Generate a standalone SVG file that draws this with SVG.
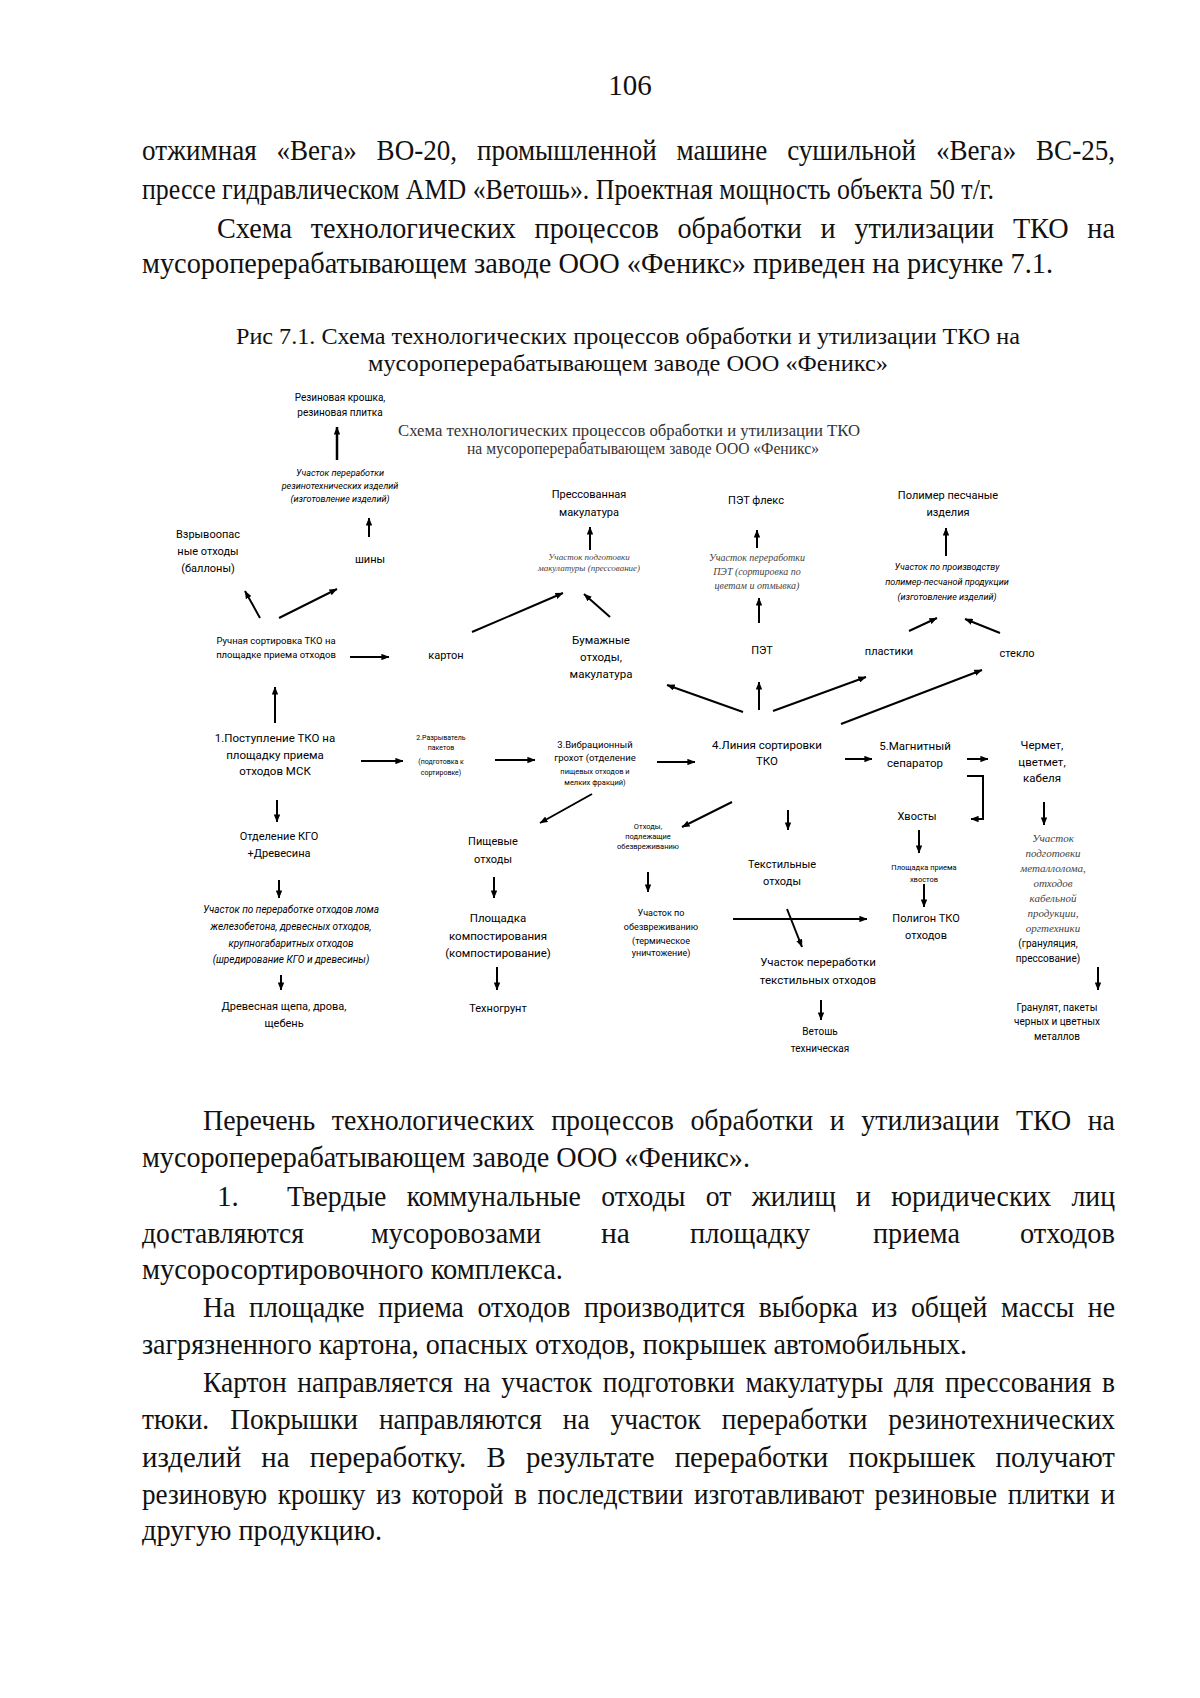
<svg xmlns="http://www.w3.org/2000/svg" width="1200" height="1698" viewBox="0 0 1200 1698">
<defs>
<marker id="ah" viewBox="0 0 10 8" refX="9.5" refY="4" markerWidth="8" markerHeight="6.4" markerUnits="userSpaceOnUse" orient="auto">
<path d="M0,0 L10,4 L0,8 z" fill="#000"/>
</marker>
<style>
.body{font-family:"Liberation Serif","Times New Roman",serif;font-size:29px;fill:#111}
.cap{font-family:"Liberation Serif","Times New Roman",serif;font-size:24px;fill:#111;text-anchor:middle}
.ttl{font-family:"Liberation Serif","Times New Roman",serif;font-size:16px;fill:#333;text-anchor:middle}
text.s{font-family:Roboto,"Liberation Sans",sans-serif;text-anchor:middle;dominant-baseline:central;fill:#000}
.f11{font-size:11px}.f115{font-size:11.5px}.f10{font-size:10px}.f95{font-size:9.5px}.f9{font-size:9px}.f75{font-size:7.5px}.f7{font-size:7px}
.it{font-style:italic}
text.si{font-family:"Liberation Serif",serif;font-style:italic;text-anchor:middle;dominant-baseline:central;fill:#444}
.cn line,.cn polyline{stroke:#000;stroke-width:2;fill:none;marker-end:url(#ah)}
</style>
</defs>
<rect width="1200" height="1698" fill="#fff"/>

<g id="page-text">
<text class="body" x="630" y="95" text-anchor="middle">106</text>
<text class="body" x="142" y="160" style="word-spacing:14px" textLength="973" lengthAdjust="spacingAndGlyphs">отжимная «Вега» ВО-20, промышленной машине сушильной «Вега» ВС-25,</text>
<text class="body" x="142" y="199" textLength="852" lengthAdjust="spacingAndGlyphs">прессе гидравлическом AMD «Ветошь». Проектная мощность объекта 50 т/г.</text>
<text class="body" x="217" y="238" style="word-spacing:12px" textLength="898" lengthAdjust="spacingAndGlyphs">Схема технологических процессов обработки и утилизации ТКО на</text>
<text class="body" x="142" y="273" textLength="911" lengthAdjust="spacingAndGlyphs">мусороперерабатывающем заводе ООО «Феникс» приведен на рисунке 7.1.</text>
<text class="cap" x="628" y="344" textLength="784" lengthAdjust="spacingAndGlyphs">Рис 7.1. Схема технологических процессов обработки и утилизации ТКО на</text>
<text class="cap" x="628" y="371" textLength="520" lengthAdjust="spacingAndGlyphs">мусороперерабатывающем заводе ООО «Феникс»</text>

<text class="body" x="203" y="1130" style="word-spacing:10px" textLength="912" lengthAdjust="spacingAndGlyphs">Перечень технологических процессов обработки и утилизации ТКО на</text>
<text class="body" x="142" y="1167" textLength="608" lengthAdjust="spacingAndGlyphs">мусороперерабатывающем заводе ООО «Феникс».</text>
<text class="body" x="217" y="1206">1.</text>
<text class="body" x="287" y="1206" style="word-spacing:14px" textLength="828" lengthAdjust="spacingAndGlyphs">Твердые коммунальные отходы от жилищ и юридических лиц</text>
<text class="body" x="142" y="1243" textLength="162" lengthAdjust="spacingAndGlyphs">доставляются</text>
<text class="body" x="371" y="1243" textLength="170" lengthAdjust="spacingAndGlyphs">мусоровозами</text>
<text class="body" x="601" y="1243" textLength="29" lengthAdjust="spacingAndGlyphs">на</text>
<text class="body" x="690" y="1243" textLength="120" lengthAdjust="spacingAndGlyphs">площадку</text>
<text class="body" x="873" y="1243" textLength="87" lengthAdjust="spacingAndGlyphs">приема</text>
<text class="body" x="1020" y="1243" textLength="95" lengthAdjust="spacingAndGlyphs">отходов</text>
<text class="body" x="142" y="1279" textLength="421" lengthAdjust="spacingAndGlyphs">мусоросортировочного комплекса.</text>
<text class="body" x="203" y="1317" style="word-spacing:7px" textLength="912" lengthAdjust="spacingAndGlyphs">На площадке приема отходов производится выборка из общей массы не</text>
<text class="body" x="142" y="1354" textLength="825" lengthAdjust="spacingAndGlyphs">загрязненного картона, опасных отходов, покрышек автомобильных.</text>
<text class="body" x="203" y="1392" style="word-spacing:4px" textLength="912" lengthAdjust="spacingAndGlyphs">Картон направляется на участок подготовки макулатуры для прессования в</text>
<text class="body" x="142" y="1429" style="word-spacing:15px" textLength="973" lengthAdjust="spacingAndGlyphs">тюки. Покрышки направляются на участок переработки резинотехнических</text>
<text class="body" x="142" y="1467" style="word-spacing:13px" textLength="973" lengthAdjust="spacingAndGlyphs">изделий на переработку. В результате переработки покрышек получают</text>
<text class="body" x="142" y="1504" style="word-spacing:4px" textLength="973" lengthAdjust="spacingAndGlyphs">резиновую крошку из которой в последствии изготавливают резиновые плитки и</text>
<text class="body" x="142" y="1540" textLength="240" lengthAdjust="spacingAndGlyphs">другую продукцию.</text>
</g>

<g id="diagram-title">
<text class="ttl" x="629" y="436" textLength="462" lengthAdjust="spacingAndGlyphs">Схема технологических процессов обработки и утилизации ТКО</text>
<text class="ttl" x="643" y="454" textLength="352" lengthAdjust="spacingAndGlyphs">на мусороперерабатывающем заводе ООО «Феникс»</text>
</g>

<g class="cn" id="connectors">
<line x1="337" y1="460" x2="337" y2="427" style="stroke-width:2.5"/>
<line x1="369" y1="537" x2="369" y2="518"/>
<line x1="260" y1="618" x2="245" y2="591"/>
<line x1="279" y1="618" x2="337" y2="589"/>
<line x1="350" y1="657" x2="389" y2="657"/>
<line x1="472" y1="632" x2="563" y2="593"/>
<line x1="610" y1="617" x2="584" y2="594"/>
<line x1="590" y1="550" x2="590" y2="527"/>
<line x1="275" y1="723" x2="275" y2="687"/>
<line x1="361" y1="761" x2="403" y2="761"/>
<line x1="495" y1="760" x2="535" y2="760"/>
<line x1="657" y1="762" x2="695" y2="762"/>
<line x1="743" y1="712" x2="667" y2="685"/>
<line x1="759" y1="710" x2="759" y2="682"/>
<line x1="759" y1="623" x2="759" y2="598"/>
<line x1="757" y1="548" x2="757" y2="530"/>
<line x1="773" y1="711" x2="866" y2="677"/>
<line x1="841" y1="724" x2="982" y2="670"/>
<line x1="909" y1="631" x2="937" y2="618"/>
<line x1="1000" y1="633" x2="965" y2="619"/>
<line x1="946" y1="556" x2="946" y2="528"/>
<line x1="845" y1="759" x2="872" y2="759"/>
<line x1="967" y1="759" x2="988" y2="759"/>
<polyline points="967,776 983,776 983,819 971,819"/>
<line x1="919" y1="830" x2="919" y2="853"/>
<line x1="924" y1="884" x2="924" y2="907"/>
<line x1="733" y1="919" x2="867" y2="919"/>
<line x1="787" y1="909" x2="802" y2="947"/>
<line x1="788" y1="810" x2="788" y2="830"/>
<line x1="732" y1="802" x2="682" y2="827"/>
<line x1="592" y1="794" x2="540" y2="823"/>
<line x1="494" y1="877" x2="494" y2="898"/>
<line x1="497" y1="967" x2="497" y2="990"/>
<line x1="648" y1="872" x2="648" y2="892"/>
<line x1="277" y1="800" x2="277" y2="822"/>
<line x1="279" y1="880" x2="279" y2="898"/>
<line x1="281" y1="975" x2="281" y2="990"/>
<line x1="821" y1="1000" x2="821" y2="1020"/>
<line x1="1044" y1="802" x2="1044" y2="825"/>
<line x1="1098" y1="967" x2="1098" y2="990"/>
</g>

<g id="n-rubber-products">
<text class="s f10" x="340" y="397">Резиновая крошка,</text>
<text class="s f10" x="340" y="412">резиновая плитка</text>
</g>
<g id="n-rubber-site">
<text class="s f9 it" x="340" y="473">Участок переработки</text>
<text class="s f9 it" x="340" y="486">резинотехнических изделий</text>
<text class="s f9 it" x="340" y="499">(изготовление изделий)</text>
</g>
<g id="n-tires"><text class="s f11" x="370" y="559">шины</text></g>
<g id="n-explosive">
<text class="s f11" x="208" y="534">Взрывоопас</text>
<text class="s f11" x="208" y="551">ные отходы</text>
<text class="s f11" x="208" y="568">(баллоны)</text>
</g>
<g id="n-manual-sort">
<text class="s f95" x="276" y="640">Ручная сортировка ТКО на</text>
<text class="s f95" x="276" y="654">площадке приема отходов</text>
</g>
<g id="n-carton"><text class="s f11" x="446" y="655">картон</text></g>
<g id="n-paper">
<text class="s f115" x="601" y="640">Бумажные</text>
<text class="s f115" x="601" y="657">отходы,</text>
<text class="s f115" x="601" y="674">макулатура</text>
</g>
<g id="n-pressed">
<text class="s f11" x="589" y="494">Прессованная</text>
<text class="s f11" x="589" y="512">макулатура</text>
</g>
<g id="n-paper-site">
<text class="si f9" x="589" y="557">Участок подготовки</text>
<text class="si f9" x="589" y="568">макулатуры (прессование)</text>
</g>
<g id="n-pet-flex"><text class="s f11" x="756" y="500">ПЭТ флекс</text></g>
<g id="n-pet-site">
<text class="si f10" x="757" y="557">Участок переработки</text>
<text class="si f10" x="757" y="571">ПЭТ (сортировка по</text>
<text class="si f10" x="757" y="585">цветам и отмывка)</text>
</g>
<g id="n-pet"><text class="s f11" x="762" y="650">ПЭТ</text></g>
<g id="n-polymer">
<text class="s f11" x="948" y="495">Полимер песчаные</text>
<text class="s f11" x="948" y="512">изделия</text>
</g>
<g id="n-polymer-site">
<text class="s f9 it" x="947" y="567">Участок по производству</text>
<text class="s f9 it" x="947" y="582">полимер-песчаной продукции</text>
<text class="s f9 it" x="947" y="597">(изготовление изделий)</text>
</g>
<g id="n-plastics"><text class="s f11" x="889" y="651">пластики</text></g>
<g id="n-glass"><text class="s f11" x="1017" y="653">стекло</text></g>
<g id="n-1">
<text class="s f115" x="275" y="738">1.Поступление ТКО на</text>
<text class="s f115" x="275" y="755">площадку приема</text>
<text class="s f115" x="275" y="771">отходов МСК</text>
</g>
<g id="n-2">
<text class="s f7" x="441" y="738">2.Разрыватель</text>
<text class="s f7" x="441" y="748">пакетов</text>
<text class="s f7" x="441" y="762">(подготовка к</text>
<text class="s f7" x="441" y="773">сортировке)</text>
</g>
<g id="n-3">
<text class="s f95" x="595" y="744">3.Вибрационный</text>
<text class="s f95" x="595" y="757">грохот (отделение</text>
<text class="s f75" x="595" y="771">пищевых отходов и</text>
<text class="s f75" x="595" y="782">мелких фракций)</text>
</g>
<g id="n-4">
<text class="s f115" x="767" y="745">4.Линия сортировки</text>
<text class="s f115" x="767" y="761">ТКО</text>
</g>
<g id="n-5">
<text class="s f115" x="915" y="746">5.Магнитный</text>
<text class="s f115" x="915" y="763">сепаратор</text>
</g>
<g id="n-metal">
<text class="s f115" x="1042" y="745">Чермет,</text>
<text class="s f115" x="1042" y="762">цветмет,</text>
<text class="s f115" x="1042" y="778">кабеля</text>
</g>
<g id="n-tails"><text class="s f11" x="917" y="816">Хвосты</text></g>
<g id="n-tails-site">
<text class="s f75" x="924" y="867">Площадка приема</text>
<text class="s f75" x="924" y="879">хвостов</text>
</g>
<g id="n-landfill">
<text class="s f11" x="926" y="918">Полигон ТКО</text>
<text class="s f11" x="926" y="935">отходов</text>
</g>
<g id="n-textile">
<text class="s f11" x="782" y="864">Текстильные</text>
<text class="s f11" x="782" y="881">отходы</text>
</g>
<g id="n-textile-site">
<text class="s f115" x="818" y="962">Участок переработки</text>
<text class="s f115" x="818" y="980">текстильных отходов</text>
</g>
<g id="n-rags">
<text class="s f10" x="820" y="1031">Ветошь</text>
<text class="s f10" x="820" y="1048">техническая</text>
</g>
<g id="n-metal-site">
<text class="si f11" x="1053" y="838">Участок</text>
<text class="si f11" x="1053" y="853">подготовки</text>
<text class="si f11" x="1053" y="868">металлолома,</text>
<text class="si f11" x="1053" y="883">отходов</text>
<text class="si f11" x="1053" y="898">кабельной</text>
<text class="si f11" x="1053" y="913">продукции,</text>
<text class="si f11" x="1053" y="928">оргтехники</text>
<text class="s f10" x="1048" y="943">(грануляция,</text>
<text class="s f10" x="1048" y="958">прессование)</text>
</g>
<g id="n-granulate">
<text class="s f10" x="1057" y="1007">Гранулят, пакеты</text>
<text class="s f10" x="1057" y="1021">черных и цветных</text>
<text class="s f10" x="1057" y="1036">металлов</text>
</g>
<g id="n-hazard">
<text class="s f75" x="648" y="826">Отходы,</text>
<text class="s f75" x="648" y="836">подлежащие</text>
<text class="s f75" x="648" y="846">обезвреживанию</text>
</g>
<g id="n-hazard-site">
<text class="s f9" x="661" y="913">Участок по</text>
<text class="s f9" x="661" y="927">обезвреживанию</text>
<text class="s f9" x="661" y="941">(термическое</text>
<text class="s f9" x="661" y="953">уничтожение)</text>
</g>
<g id="n-food">
<text class="s f11" x="493" y="841">Пищевые</text>
<text class="s f11" x="493" y="859">отходы</text>
</g>
<g id="n-compost">
<text class="s f115" x="498" y="918">Площадка</text>
<text class="s f115" x="498" y="936">компостирования</text>
<text class="s f115" x="498" y="953">(компостирование)</text>
</g>
<g id="n-technosoil"><text class="s f11" x="498" y="1008">Техногрунт</text></g>
<g id="n-kgo">
<text class="s f11" x="279" y="836">Отделение КГО</text>
<text class="s f11" x="279" y="853">+Древесина</text>
</g>
<g id="n-kgo-site">
<text class="s f10 it" x="291" y="909">Участок по переработке отходов лома</text>
<text class="s f10 it" x="291" y="926">железобетона, древесных отходов,</text>
<text class="s f10 it" x="291" y="943">крупногабаритных отходов</text>
<text class="s f10 it" x="291" y="959">(шредирование КГО и древесины)</text>
</g>
<g id="n-wood">
<text class="s f11" x="284" y="1006">Древесная щепа, дрова,</text>
<text class="s f11" x="284" y="1023">щебень</text>
</g>
</svg>
